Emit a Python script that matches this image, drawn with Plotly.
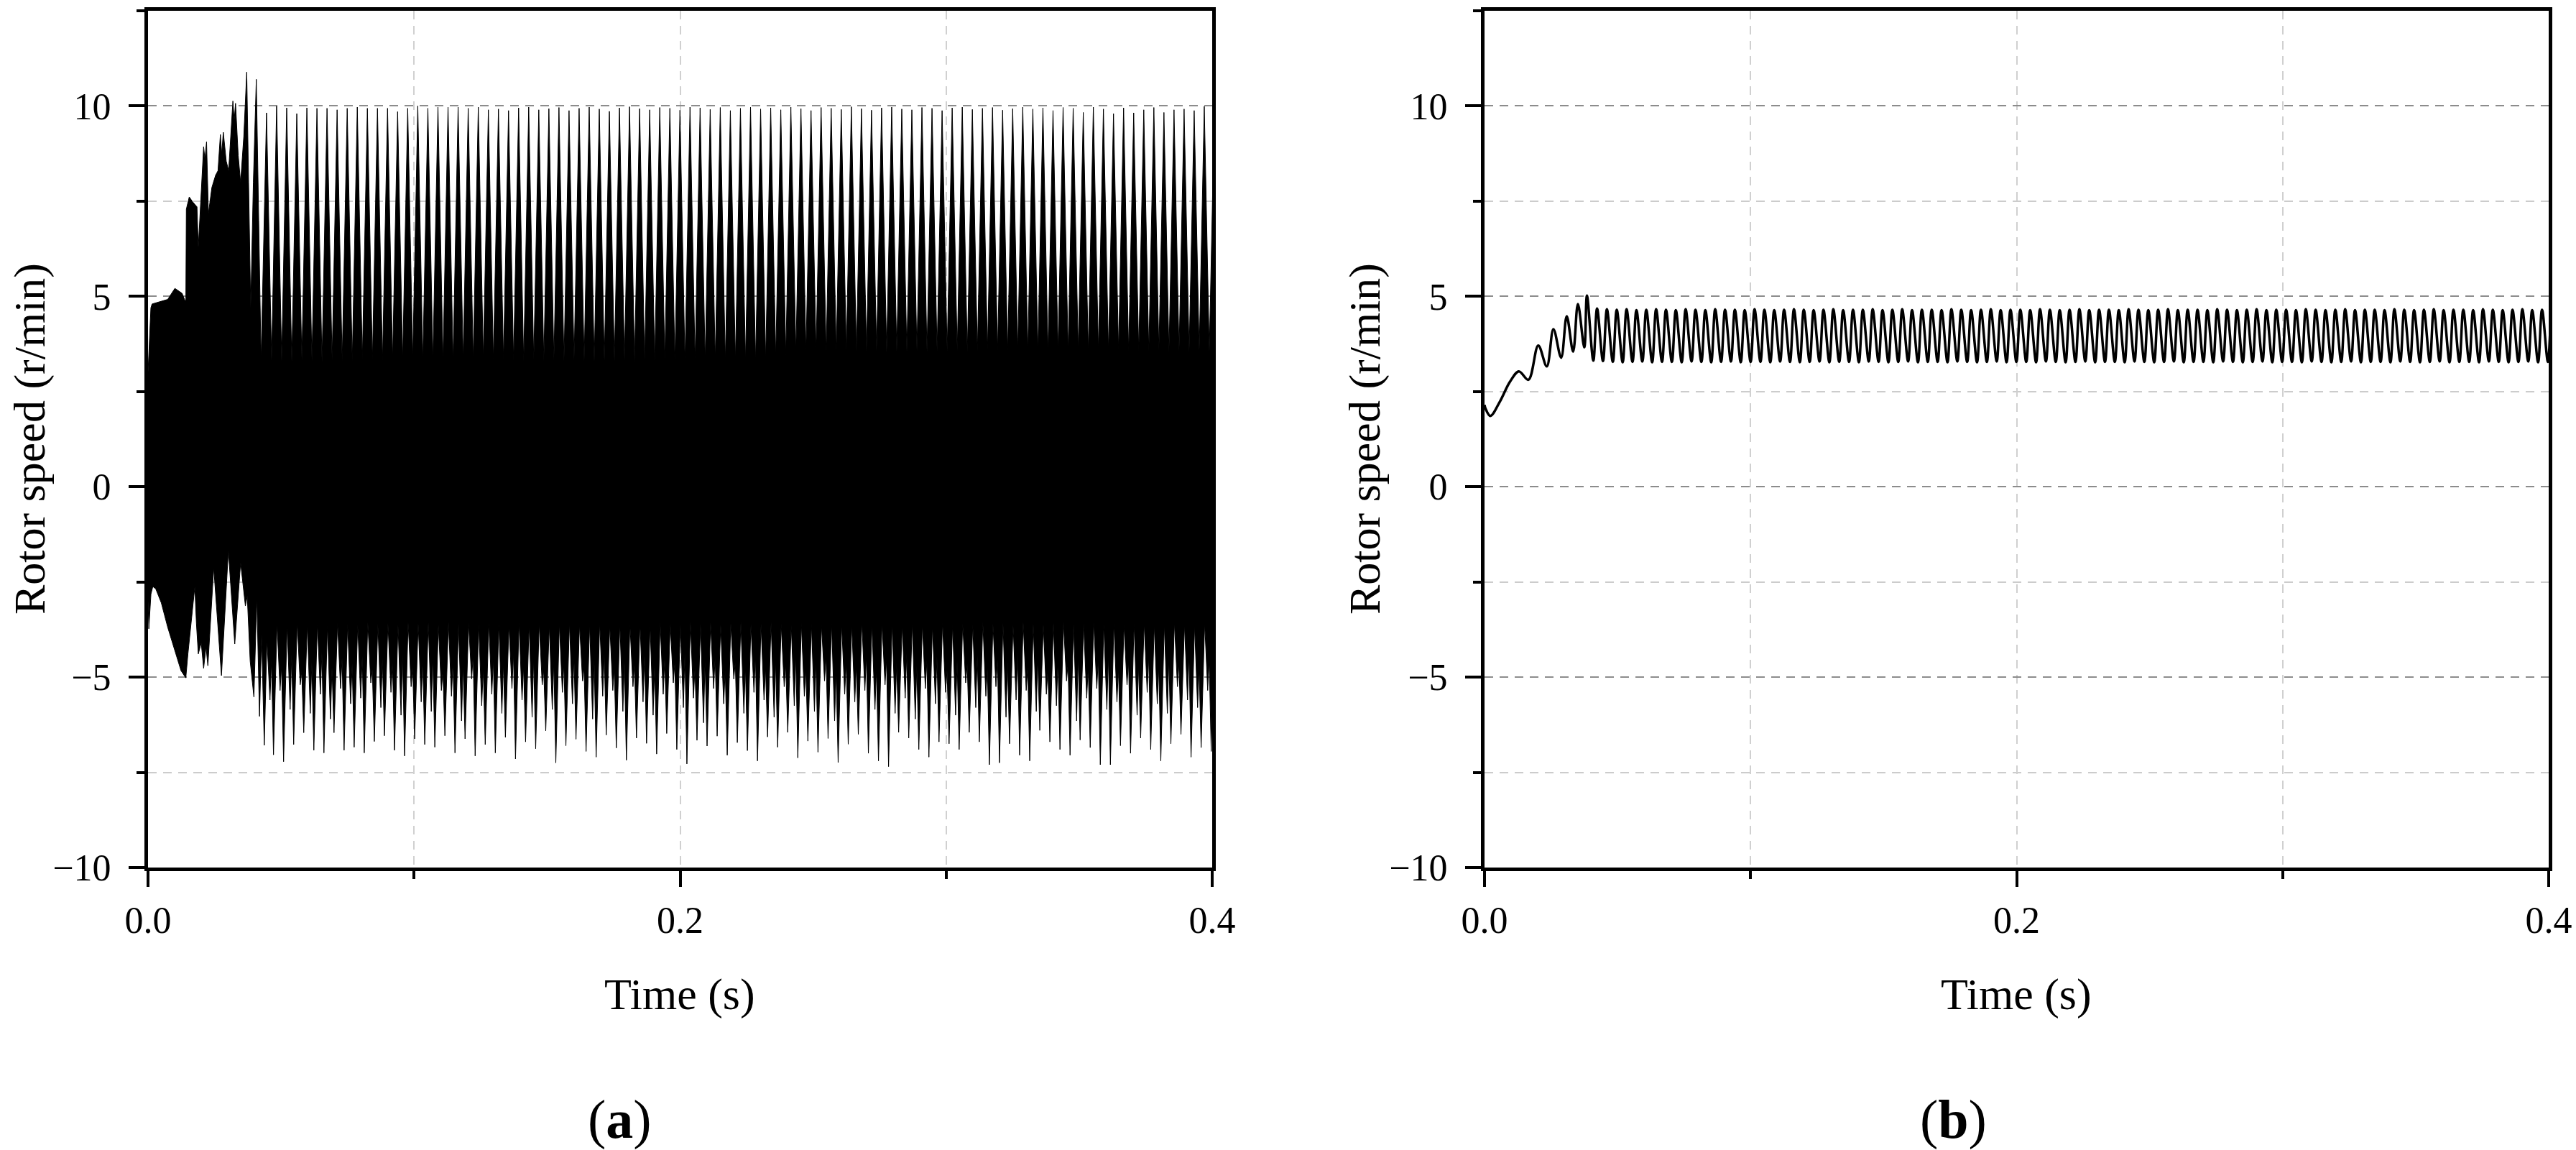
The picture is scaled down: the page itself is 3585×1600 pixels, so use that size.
import plotly.graph_objects as go

W, H = 3585, 1600
FONT = "Liberation Serif"

# ---------------- data: panel (a) ----------------
# transient part of the upper envelope (time s, speed r/min)
a_up_t_tr = [0.0000, 0.00036, 0.00108, 0.00153, 0.0038, 0.0074, 0.0101, 0.0128, 0.0139, 0.01422,
             0.0144, 0.0155, 0.0168, 0.0184, 0.0189, 0.0200, 0.0209, 0.0214, 0.0220, 0.0227,
             0.0240, 0.0254, 0.0263, 0.0272, 0.0277, 0.0283, 0.0294, 0.0303, 0.0319, 0.0324,
             0.0329, 0.0339, 0.0348, 0.0360, 0.0371, 0.0378, 0.0386, 0.0396, 0.0407, 0.0416,
             0.0425]
a_up_v_tr = [3.00, 3.60, 4.70, 4.80, 4.85, 4.92, 5.21, 5.08, 4.89, 4.90,
             7.29, 7.61, 7.48, 7.35, 6.28, 7.67, 8.93, 8.60, 9.06, 7.17,
             7.86, 8.18, 8.30, 9.25, 8.74, 9.31, 8.55, 8.30, 10.13, 9.63,
             10.07, 8.70, 7.99, 9.20, 10.89, 8.00, 4.70, 8.00, 10.70, 7.00,
             3.31]
# periodic part: spike apexes and valleys of the upper envelope
A_PERIOD = 0.00379
A_UP_START = 0.04455
a_up_peak = [9.82, 10.00, 9.95, 9.80, 9.95, 9.94, 9.94, 9.90, 9.94, 9.97,
             9.94, 9.94, 9.94, 9.85, 9.94, 10.00, 9.94, 9.97, 9.97, 9.97,
             9.94, 9.97, 9.90, 9.92, 9.88, 9.95, 9.97, 9.90, 9.93, 9.96,
             9.88, 9.94, 9.97, 9.92, 9.86, 9.95, 9.98, 9.93, 9.90, 9.96,
             9.94, 9.89, 9.97, 9.95, 9.91, 9.96, 9.88, 9.94, 9.97, 9.92,
             9.95, 9.90, 9.97, 9.93, 9.88, 9.96, 9.94, 9.91, 9.98, 9.93,
             9.89, 9.95, 9.97, 9.92, 9.90, 9.96, 9.94, 9.88, 9.95, 9.97,
             9.91, 9.94, 9.96, 9.89, 9.93, 9.97, 9.92, 9.95, 9.88, 9.96,
             9.94, 9.83, 9.97, 9.92, 9.80, 9.95, 9.82, 9.90, 9.96, 9.83,
             9.90, 9.92, 9.88, 9.99, 9.90]
a_up_valley = [3.31, 3.30, 3.28, 3.33, 3.30, 3.27, 3.32, 3.30, 3.29, 3.33,
               3.30, 3.28, 3.31, 3.30, 3.34, 3.29, 3.31, 3.30, 3.28, 3.32,
               3.30, 3.33, 3.29, 3.31, 3.30, 3.28, 3.32, 3.30, 3.31, 3.29,
               3.33, 3.30, 3.28, 3.31, 3.30, 3.32, 3.29, 3.31, 3.30, 3.33,
               3.30, 3.28, 3.31, 3.30, 3.32, 3.29, 3.31, 3.30, 3.28, 3.32,
               3.40, 3.46, 3.52, 3.55, 3.56, 3.53, 3.55, 3.57, 3.54, 3.55,
               3.56, 3.53, 3.55, 3.54, 3.57, 3.53, 3.55, 3.54, 3.56, 3.53,
               3.55, 3.57, 3.54, 3.53, 3.56, 3.54, 3.55, 3.53, 3.56, 3.54,
               3.57, 3.53, 3.55, 3.54, 3.56, 3.53, 3.55, 3.54, 3.57, 3.53,
               3.55, 3.54, 3.56, 3.54]
# transient part of the lower envelope
a_lo_t_tr = [0.0000, 0.0003, 0.0011, 0.0018, 0.0029, 0.0050, 0.0074, 0.0101, 0.0124, 0.0142,
             0.0150, 0.0176, 0.0182, 0.0189, 0.0200, 0.0209, 0.0218, 0.0225, 0.0247, 0.0276,
             0.0302, 0.0326, 0.0348, 0.0366, 0.0373, 0.0384, 0.0398, 0.0409, 0.0419, 0.0427,
             0.0437]
a_lo_v_tr = [-3.00, -3.73, -2.82, -2.62, -2.68, -3.05, -3.69, -4.32, -4.83, -5.02,
             -4.39, -2.62, -3.60, -4.39, -4.10, -4.77, -4.20, -4.70, -2.12, -4.96,
             -1.67, -4.13, -1.99, -3.13, -2.87, -4.58, -5.52, -2.87, -6.03, -3.88,
             -6.79]
# periodic part of the lower envelope
A_LO_START = 0.0447
a_lo_apex = [-4.01, -3.58, -3.62, -3.55, -3.60, -3.57, -3.63, -3.56, -3.59, -3.61,
             -3.55, -3.60, -3.58, -3.62, -3.56, -3.59, -3.57, -3.63, -3.55, -3.60,
             -3.58, -3.61, -3.56, -3.59, -3.62, -3.55, -3.60, -3.57, -3.63, -3.58,
             -3.56, -3.61, -3.59, -3.55, -3.62, -3.57, -3.60, -3.58, -3.63, -3.56,
             -3.59, -3.61, -3.55, -3.60, -3.57, -3.62, -3.58, -3.56, -3.61, -3.59,
             -3.55, -3.60, -3.63, -3.57, -3.58, -3.62, -3.56, -3.59, -3.61, -3.55,
             -3.60, -3.58, -3.57, -3.63, -3.56, -3.59, -3.62, -3.55, -3.60, -3.58,
             -3.61, -3.56, -3.59, -3.57, -3.63, -3.55, -3.60, -3.62, -3.58, -3.56,
             -3.61, -3.59, -3.55, -3.60, -3.57, -3.63, -3.58, -3.56, -3.61, -3.59,
             -3.55, -3.60, -3.62, -3.57, -3.58]
a_lo_d2 = [-5.60, -5.35, -5.85, -5.20, -5.95, -5.45, -6.10, -5.30, -5.70, -5.55,
           -5.15, -5.80, -5.40, -6.00, -5.25, -5.65, -5.90, -5.35, -5.50, -6.15,
           -5.05, -5.75, -5.45, -5.95, -5.30, -5.60, -6.05, -5.20, -5.85, -5.40,
           -5.70, -5.10, -6.10, -5.50, -5.35, -5.90, -5.25, -5.65, -6.00, -5.45,
           -5.15, -5.80, -5.55, -6.20, -5.30, -5.70, -5.05, -5.95, -5.40, -5.60,
           -6.05, -5.25, -5.75, -5.50, -5.90, -5.10, -6.15, -5.45, -5.65, -5.35,
           -5.85, -5.20, -5.95, -5.55, -6.10, -5.30, -5.70, -5.40, -6.00, -5.15,
           -5.80, -5.50, -5.25, -6.05, -5.60, -5.35, -5.90, -5.45, -5.75, -5.10,
           -6.15, -5.55, -5.30, -5.85, -5.65, -5.20, -6.00, -5.40, -5.70, -5.95,
           -5.25, -5.60, -5.80, -5.35]
a_lo_mid = [-4.55, -4.70, -4.40, -4.85, -4.60, -4.35, -4.75, -4.50, -4.65, -4.45,
            -4.80, -4.50, -4.62, -4.38, -4.72, -4.55, -4.44, -4.83, -4.58, -4.66,
            -4.42, -4.77, -4.52, -4.61, -4.36, -4.70, -4.48, -4.81, -4.57, -4.64,
            -4.46, -4.74, -4.53, -4.40, -4.79, -4.59, -4.68, -4.43, -4.71, -4.51,
            -4.63, -4.37, -4.76, -4.56, -4.47, -4.82, -4.60, -4.69, -4.41, -4.73,
            -4.54, -4.65, -4.39, -4.78, -4.57, -4.45, -4.84, -4.61, -4.67, -4.42,
            -4.75, -4.52, -4.63, -4.38, -4.70, -4.55, -4.46, -4.81, -4.58, -4.66,
            -4.43, -4.77, -4.53, -4.60, -4.36, -4.72, -4.49, -4.80, -4.56, -4.64,
            -4.45, -4.74, -4.52, -4.41, -4.78, -4.59, -4.68, -4.44, -4.71, -4.50,
            -4.62, -4.39, -4.76, -4.55]
a_lo_d1 = [-7.04, -7.22, -6.77, -6.46, -6.92, -6.99, -6.46, -6.92, -6.84, -6.99,
           -6.69, -6.54, -6.92, -7.07, -6.62, -6.77, -6.84, -6.54, -6.99, -6.62,
           -7.07, -6.77, -6.99, -6.58, -7.15, -6.70, -6.88, -6.41, -7.25, -6.80,
           -6.63, -6.95, -7.10, -6.52, -6.86, -7.18, -6.60, -6.74, -7.02, -6.48,
           -6.90, -7.28, -6.66, -6.81, -6.55, -7.05, -6.72, -6.93, -7.20, -6.57,
           -6.84, -6.45, -7.12, -6.68, -6.97, -6.61, -7.24, -6.76, -6.50, -7.00,
           -7.20, -7.35, -6.45, -6.60, -6.90, -7.10, -6.70, -6.75, -6.90, -6.45,
           -6.70, -7.30, -7.25, -6.75, -7.05, -7.20, -6.40, -6.70, -6.90, -7.05,
           -6.65, -6.85, -7.30, -7.30, -6.80, -7.00, -6.60, -6.90, -7.20, -6.75,
           -6.50, -7.10, -6.85, -6.95]

# ---------------- data: panel (b) ----------------
b_t_tr = [0.0000, 0.0004, 0.0022, 0.0058, 0.0095, 0.0129, 0.0165, 0.0202, 0.0234, 0.0259,
          0.0288, 0.0309, 0.0333, 0.0351, 0.0375, 0.0385, 0.0409]
b_v_tr = [2.15, 2.05, 1.86, 2.24, 2.75, 3.03, 2.81, 3.71, 3.16, 4.14,
          3.39, 4.48, 3.55, 4.80, 3.66, 5.02, 3.31]
B_PERIOD = 0.0037
B_START = 0.0423
b_peak = [4.68, 4.66, 4.65, 4.66, 4.64, 4.65, 4.66, 4.65, 4.64, 4.66,
          4.65, 4.64, 4.66, 4.65, 4.65, 4.64, 4.66, 4.65, 4.64, 4.65,
          4.66, 4.65, 4.64, 4.65, 4.66, 4.64, 4.65, 4.65, 4.66, 4.64,
          4.65, 4.66, 4.64, 4.65, 4.65, 4.64, 4.66, 4.65, 4.64, 4.65,
          4.66, 4.64, 4.65, 4.65, 4.64, 4.66, 4.65, 4.64, 4.65, 4.66,
          4.64, 4.65, 4.65, 4.64, 4.66, 4.65, 4.64, 4.65, 4.66, 4.64,
          4.65, 4.65, 4.64, 4.66, 4.65, 4.64, 4.65, 4.66, 4.64, 4.65,
          4.65, 4.64, 4.66, 4.65, 4.64, 4.65, 4.66, 4.64, 4.65, 4.65,
          4.64, 4.66, 4.65, 4.64, 4.65, 4.66, 4.64, 4.65, 4.65, 4.64,
          4.66, 4.65, 4.64, 4.65, 4.66, 4.64, 4.65, 4.65]
b_trough = [3.30, 3.28, 3.27, 3.28, 3.29, 3.27, 3.28, 3.28, 3.27, 3.29,
            3.28, 3.27, 3.28, 3.29, 3.27, 3.28, 3.28, 3.27, 3.29, 3.28,
            3.27, 3.28, 3.29, 3.27, 3.28, 3.28, 3.27, 3.29, 3.28, 3.27,
            3.28, 3.29, 3.27, 3.28, 3.28, 3.27, 3.29, 3.28, 3.27, 3.28,
            3.29, 3.27, 3.28, 3.28, 3.27, 3.29, 3.28, 3.27, 3.28, 3.29,
            3.27, 3.28, 3.28, 3.27, 3.29, 3.28, 3.27, 3.28, 3.29, 3.27,
            3.28, 3.28, 3.27, 3.29, 3.28, 3.27, 3.28, 3.29, 3.27, 3.28,
            3.28, 3.27, 3.29, 3.28, 3.27, 3.28, 3.29, 3.27, 3.28, 3.28,
            3.27, 3.29, 3.28, 3.27, 3.28, 3.29, 3.27, 3.28, 3.28, 3.27,
            3.29, 3.28, 3.27, 3.28, 3.29, 3.27, 3.28, 3.28]

x_tickvals = [0.0, 0.2, 0.4]
x_ticktext = ["0.0", "0.2", "0.4"]

# ---------------- assemble series ----------------
up_t, up_v = list(a_up_t_tr), list(a_up_v_tr)
for k, pk in enumerate(a_up_peak):
    up_t.append(A_UP_START + k * A_PERIOD)
    up_v.append(pk)
    if k < len(a_up_valley):
        up_t.append(A_UP_START + (k + 0.5) * A_PERIOD)
        up_v.append(a_up_valley[k])

lo_t, lo_v = list(a_lo_t_tr), list(a_lo_v_tr)
for k, ap in enumerate(a_lo_apex):
    s = A_LO_START + k * A_PERIOD
    lo_t.append(s)
    lo_v.append(ap)
    if k < len(a_lo_d1):
        lo_t += [s + 0.30 * A_PERIOD, s + 0.45 * A_PERIOD, s + 0.65 * A_PERIOD]
        lo_v += [a_lo_d2[k], a_lo_mid[k], a_lo_d1[k]]

poly_t = up_t + lo_t[::-1]
poly_v = up_v + lo_v[::-1]

b_t, b_v = list(b_t_tr), list(b_v_tr)
for k, pk in enumerate(b_peak):
    b_t.append(B_START + k * B_PERIOD)
    b_v.append(pk)
    b_t.append(B_START + (k + 0.6) * B_PERIOD)
    b_v.append(b_trough[k])

fig = go.Figure()
fig.add_trace(go.Scatter(x=poly_t, y=poly_v, mode="lines", fill="toself",
                         fillcolor="black", line=dict(color="black", width=1),
                         xaxis="x", yaxis="y", showlegend=False, hoverinfo="skip"))
fig.add_trace(go.Scatter(x=b_t, y=b_v, mode="lines",
                         line=dict(color="black", width=3.5, shape="spline", smoothing=1.0),
                         xaxis="x2", yaxis="y2", showlegend=False, hoverinfo="skip"))


def px_x(p):
    return p / W


def px_y(p):
    return 1 - p / H


common = dict(showline=True, linecolor="black", linewidth=5, mirror=True,
              ticks="outside", ticklen=22, tickwidth=4, tickcolor="black",
              showgrid=True, gridwidth=2, zeroline=False, automargin=False,
              tickfont=dict(family=FONT, size=52, color="black"))

xcfg = dict(common, range=[0, 0.4], tickvals=x_tickvals, ticktext=x_ticktext,
            ticklabelstandoff=2,
            gridcolor="#d0d0d0", griddash="12px,9px",
            minor=dict(dtick=0.1, tick0=0, ticks="outside", ticklen=11, tickwidth=4,
                       tickcolor="black", showgrid=True, gridcolor="#d0d0d0",
                       griddash="12px,9px", gridwidth=2))
ycfg = dict(common, range=[-10, 12.5], tick0=0, dtick=5, ticklabelstandoff=14,
            gridcolor="#8c8c8c", griddash="12px,9px",
            minor=dict(dtick=2.5, tick0=0, ticks="outside", ticklen=11, tickwidth=4,
                       tickcolor="black", showgrid=True, gridcolor="#cccccc",
                       griddash="12px,9px", gridwidth=2))

ydom = [px_y(1207), px_y(15)]
fig.update_layout(
    width=W, height=H, autosize=False,
    margin=dict(l=0, r=0, t=0, b=0, pad=0, autoexpand=False),
    paper_bgcolor="white", plot_bgcolor="white",
    xaxis=dict(xcfg, domain=[px_x(206), px_x(1687)], anchor="y"),
    yaxis=dict(ycfg, domain=ydom, anchor="x"),
    xaxis2=dict(xcfg, domain=[px_x(2066), px_x(3547)], anchor="y2"),
    yaxis2=dict(ycfg, domain=ydom, anchor="x2"),
)

annos = []
for cx, ytx in [(946, 41), (2806, 1899)]:
    annos.append(dict(text="Time (s)", x=px_x(cx), y=px_y(1383), xref="paper", yref="paper",
                      showarrow=False, font=dict(family=FONT, size=62, color="black"),
                      xanchor="center", yanchor="middle"))
    annos.append(dict(text="Rotor speed (r/min)", x=px_x(ytx), y=px_y(611), xref="paper",
                      yref="paper", showarrow=False, textangle=-90,
                      font=dict(family=FONT, size=62, color="black"),
                      xanchor="center", yanchor="middle"))
for cx, lab in [(862, "a"), (2718, "b")]:
    annos.append(dict(text="(<b>" + lab + "</b>)", x=px_x(cx), y=px_y(1557), xref="paper",
                      yref="paper", showarrow=False,
                      font=dict(family=FONT, size=76, color="black"),
                      xanchor="center", yanchor="middle"))
fig.update_layout(annotations=annos)

fig.write_html("out.html", config={"displayModeBar": False},
               post_script="document.body.style.margin='0';document.body.style.overflow='hidden';")
